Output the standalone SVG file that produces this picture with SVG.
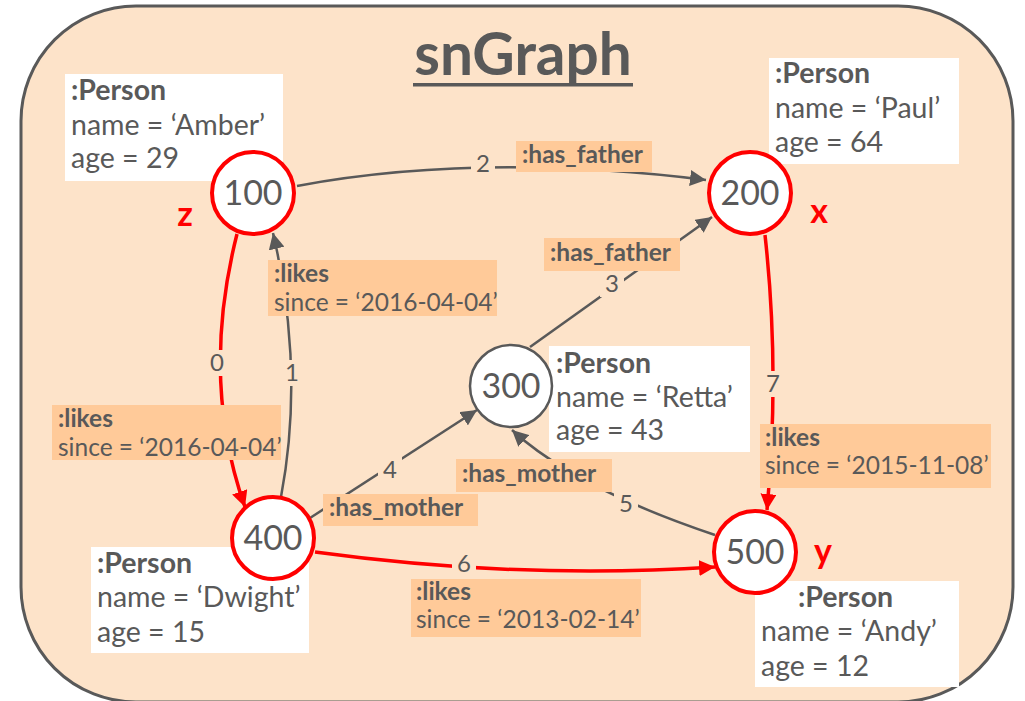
<svg xmlns="http://www.w3.org/2000/svg" width="1025" height="701" viewBox="0 0 1025 701">
<style>
text{font-family:Lato,"Liberation Sans",sans-serif;fill:#595959}
.t{font-size:28.5px}
.b{font-weight:bold}
.num{font-size:34px;text-anchor:middle}
.en{font-size:24px;text-anchor:middle}
.el{font-size:24.5px}
.var{font-size:34px;font-weight:bold;fill:#ff0000}
.pbox{fill:#ffffff}
.lbox{fill:#ffca99}
.bg{fill:#fde3c9}
.g{fill:none;stroke:#595959;stroke-width:2.5}
.r{fill:none;stroke:#ff0000;stroke-width:3.5}
.cr{fill:#ffffff;stroke:#ff0000;stroke-width:4}
.cg{fill:#ffffff;stroke:#595959;stroke-width:2.5}
</style>
<defs>
<marker id="ag" markerUnits="userSpaceOnUse" markerWidth="18" markerHeight="16" refX="16" refY="8" orient="auto"><path d="M0,0 L16,8 L0,16 Z" fill="#595959"/></marker>
<marker id="ar" markerUnits="userSpaceOnUse" markerWidth="18" markerHeight="16" refX="16" refY="8" orient="auto"><path d="M0,0 L16,8 L0,16 Z" fill="#ff0000"/></marker>
</defs>
<rect x="21" y="6" width="992" height="696" rx="115" ry="115" fill="#fde3c9" stroke="#595959" stroke-width="3"/>
<g id="title">
<text x="523" y="75" text-anchor="middle" class="b" style="font-size:58.5px">snGraph</text>
<rect x="413" y="83" width="220" height="3.5" fill="#595959"/>
</g>
<g id="connectors">
<path class="g" d="M297,186 Q480,152 706,180" marker-end="url(#ag)"/>
<path class="g" d="M530,347 L712,217" marker-end="url(#ag)"/>
<path class="g" d="M281,497 Q305,370 273,233" marker-end="url(#ag)"/>
<path class="r" d="M237,234 Q200,380 245,507" marker-end="url(#ar)"/>
<path class="g" d="M310,518 L477,410" marker-end="url(#ag)"/>
<path class="g" d="M715,535 Q575,488 512,430" marker-end="url(#ag)"/>
<path class="r" d="M315,552 Q520,580 715,567" marker-end="url(#ar)"/>
<path class="r" d="M765,235 Q780,370 767,510" marker-end="url(#ar)"/>
<rect class="bg" x="471" y="151" width="24" height="26"/>
<text class="en" x="483" y="172">2</text>
<rect class="bg" x="600" y="271" width="24" height="26"/>
<text class="en" x="612" y="292">3</text>
<rect class="bg" x="281" y="360" width="22" height="26"/>
<text class="en" x="292" y="381">1</text>
<rect class="bg" x="205" y="350" width="24" height="26"/>
<text class="en" x="217" y="371">0</text>
<rect class="bg" x="378" y="457" width="24" height="26"/>
<text class="en" x="390" y="478">4</text>
<rect class="bg" x="614" y="491" width="24" height="26"/>
<text class="en" x="626" y="512">5</text>
<rect class="bg" x="452" y="551" width="24" height="26"/>
<text class="en" x="464" y="572">6</text>
<rect class="bg" x="761" y="371" width="24" height="26"/>
<text class="en" x="773" y="392">7</text>
<rect class="lbox" x="516" y="141" width="136" height="31"/>
<text class="el b" x="522" y="163">:has_father</text>
<rect class="lbox" x="544" y="238" width="136" height="33"/>
<text class="el b" x="550" y="261">:has_father</text>
<rect class="lbox" x="268" y="260" width="229" height="56"/>
<text class="el b" x="274" y="282">:likes</text>
<text class="el" x="274" y="311">since = ‘2016-04-04’</text>
<rect class="lbox" x="52" y="405" width="229" height="55"/>
<text class="el b" x="58" y="427">:likes</text>
<text class="el" x="58" y="456">since = ‘2016-04-04’</text>
<rect class="lbox" x="323" y="494" width="155" height="32"/>
<text class="el b" x="329" y="516">:has_mother</text>
<rect class="lbox" x="456" y="459" width="156" height="33"/>
<text class="el b" x="462" y="482">:has_mother</text>
<rect class="lbox" x="411" y="579" width="230" height="58"/>
<text class="el b" x="416" y="600">:likes</text>
<text class="el" x="416" y="628">since = ‘2013-02-14’</text>
<rect class="lbox" x="760" y="424" width="231" height="64"/>
<text class="el b" x="765" y="446">:likes</text>
<text class="el" x="765" y="474">since = ‘2015-11-08’</text>
</g>
<g id="node100">
<rect class="pbox" x="65" y="74" width="218" height="107"/>
<text class="t b" x="71" y="100">:Person</text>
<text class="t" x="71" y="135">name = ‘Amber’</text>
<text class="t" x="71" y="168">age = 29</text>
<circle class="cr" cx="253" cy="193" r="41"/>
<text class="num" x="253" y="205">100</text>
<text class="var" x="185" y="226" text-anchor="middle">z</text>
</g>
<g id="node200">
<rect class="pbox" x="769" y="58" width="190" height="106"/>
<text class="t b" x="775" y="83">:Person</text>
<text class="t" x="775" y="118">name = ‘Paul’</text>
<text class="t" x="775" y="152">age = 64</text>
<circle class="cr" cx="750" cy="193" r="41"/>
<text class="num" x="750" y="205">200</text>
<text class="var" x="819" y="223" text-anchor="middle">x</text>
</g>
<g id="node300">
<rect class="pbox" x="549" y="346" width="201" height="106"/>
<text class="t b" x="556" y="373">:Person</text>
<text class="t" x="556" y="407">name = ‘Retta’</text>
<text class="t" x="556" y="440">age = 43</text>
<circle class="cg" cx="511" cy="386" r="41"/>
<text class="num" x="511" y="398">300</text>
</g>
<g id="node400">
<rect class="pbox" x="91" y="547" width="218" height="106"/>
<text class="t b" x="97" y="573">:Person</text>
<text class="t" x="97" y="607">name = ‘Dwight’</text>
<text class="t" x="97" y="642">age = 15</text>
<circle class="cr" cx="273" cy="538" r="41"/>
<text class="num" x="273" y="550">400</text>
</g>
<g id="node500">
<rect class="pbox" x="755" y="581" width="204" height="106"/>
<text class="t b" x="798" y="607">:Person</text>
<text class="t" x="761" y="641">name = ‘Andy’</text>
<text class="t" x="761" y="676">age = 12</text>
<circle class="cr" cx="755" cy="552" r="41"/>
<text class="num" x="755" y="564">500</text>
<text class="var" x="823" y="563" text-anchor="middle">y</text>
</g>
</svg>
